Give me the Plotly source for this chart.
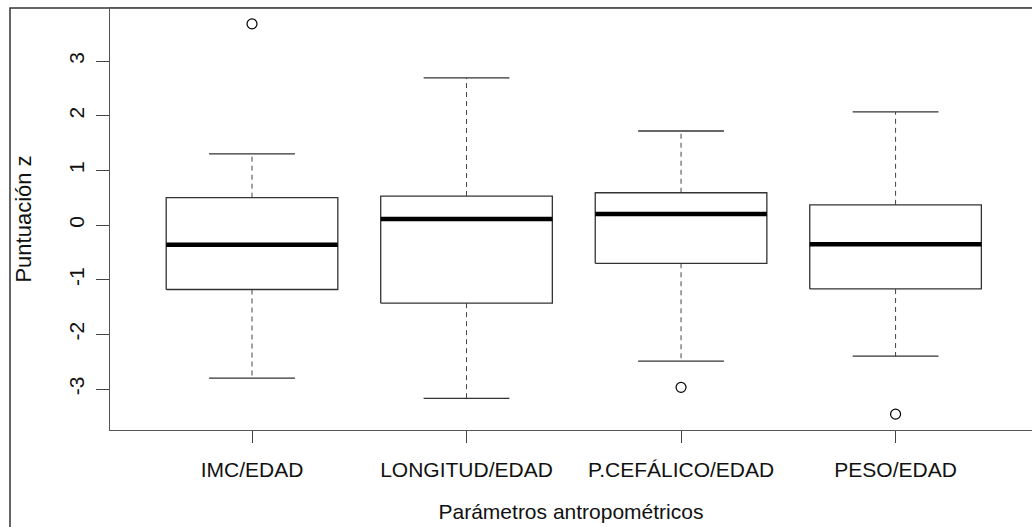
import plotly.graph_objects as go

# Summary statistics of the z-scores per anthropometric parameter
categories = ["IMC/EDAD", "LONGITUD/EDAD", "P.CEFÁLICO/EDAD", "PESO/EDAD"]
upper_whisker = [1.30, 2.69, 1.72, 2.07]
q3 = [0.50, 0.53, 0.59, 0.37]
median = [-0.36, 0.11, 0.20, -0.35]
q1 = [-1.18, -1.43, -0.70, -1.17]
lower_whisker = [-2.80, -3.17, -2.49, -2.40]
outliers = [[3.68], [], [-2.97], [-3.46]]
y_ticks = [-3, -2, -1, 0, 1, 2, 3]

positions = list(range(1, len(categories) + 1))
half_box = 0.4     # boxwex 0.8
half_cap = 0.2     # staple half-width

FONT = "Liberation Sans, Arial, Helvetica, sans-serif"
LINE = "#333333"

fig = go.Figure()

for p, uw, hi, md, lo, lw, out in zip(positions, upper_whisker, q3, median, q1,
                                      lower_whisker, outliers):
    # dashed whiskers
    for a, b in ((hi, uw), (lo, lw)):
        fig.add_trace(go.Scatter(x=[p, p], y=[a, b], mode="lines",
                                 line=dict(color="#444444", width=1, dash="5px,4px"),
                                 hoverinfo="skip"))
    # whisker caps
    for v in (uw, lw):
        fig.add_trace(go.Scatter(x=[p - half_cap, p + half_cap], y=[v, v], mode="lines",
                                 line=dict(color=LINE, width=1.3), hoverinfo="skip"))
    # box
    fig.add_trace(go.Scatter(
        x=[p - half_box, p + half_box, p + half_box, p - half_box, p - half_box],
        y=[lo, lo, hi, hi, lo], mode="lines",
        line=dict(color=LINE, width=1.3), hoverinfo="skip"))
    # median
    fig.add_trace(go.Scatter(x=[p - half_box, p + half_box], y=[md, md], mode="lines",
                             line=dict(color="black", width=4.5), hoverinfo="skip"))
    # outliers
    if out:
        fig.add_trace(go.Scatter(x=[p] * len(out), y=out, mode="markers",
                                 marker=dict(symbol="circle-open", size=10,
                                             color="black", line=dict(width=1.2)),
                                 hoverinfo="skip"))

# outer figure frame
fig.add_shape(type="rect", xref="paper", yref="paper",
              x0=-100 / 922, x1=1.2, y0=-0.5, y1=1.0,
              line=dict(color="#333333", width=1.5), layer="below")

fig.update_layout(
    width=1032, height=527,
    margin=dict(l=110, r=0, t=8, b=97),
    paper_bgcolor="white", plot_bgcolor="white",
    showlegend=False,
    font=dict(family=FONT, size=21, color="black"),
)

fig.update_xaxes(
    range=[0.338, 4.636],
    tickmode="array", tickvals=positions, ticktext=categories,
    ticks="outside", ticklen=12, tickcolor="#444444", tickwidth=1,
    ticklabelstandoff=9,
    showline=True, linecolor="#555555", linewidth=1, mirror=True,
    showgrid=False, zeroline=False,
    tickfont=dict(family=FONT, size=21, color="#111111"),
    title=dict(text="Parámetros antropométricos",
               font=dict(family=FONT, size=21, color="#111111"), standoff=24),
)

fig.update_yaxes(
    range=[-3.75, 3.97],
    tickmode="array", tickvals=y_ticks, ticktext=[str(v) for v in y_ticks],
    tickangle=-90,
    ticks="outside", ticklen=13, tickcolor="#444444", tickwidth=1,
    ticklabelstandoff=4,
    showline=True, linecolor="#555555", linewidth=1, mirror=True,
    showgrid=False, zeroline=False,
    tickfont=dict(family=FONT, size=21, color="#111111"),
    title=dict(text="Puntuación z", font=dict(family=FONT, size=22, color="#111111"),
               standoff=26),
)

fig.write_html("out.html")
